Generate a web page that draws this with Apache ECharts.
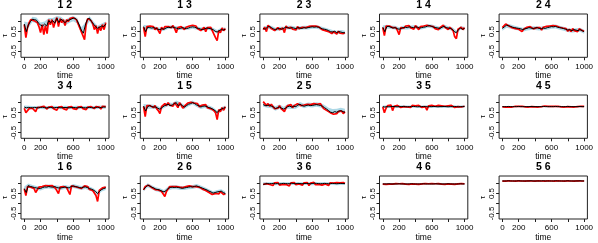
<!DOCTYPE html>
<html><head><meta charset="utf-8">
<script src="https://cdn.jsdelivr.net/npm/echarts@6/dist/echarts.min.js"></script>
<style>html,body{margin:0;padding:0;background:#fff}#c{width:598px;height:243px}</style>
</head><body><div id="c"></div><script>
const T25=[0,25,50,75,100,125,150,175,200,225,250,275,300,325,350,375,400,425,450,475,500,525,550,575,600,625,650,675,700,725,750,775,800,825,850,875,900,925,950,975,1000];
const T20=[0,20,40,60,80,100,120,140,160,180,200,220,240,260,280,300,320,340,360,380,400,420,440,460,480,500,520,540,560,580,600,620,640,660,680,700,720,740,760,780,800,820,840,860,880,900,920,940,960,980,1000];
const T50=[0,50,100,150,200,250,300,350,400,450,500,550,600,650,700,750,800,850,900,950,1000];
const xTicks=[0,200,400,600,800,1000];
const xLabels=[0,200,600,1000];
const yTicks=[-0.5,0,0.5,1];
const yLabels=[-0.5,0.5];

const truth_1_2=[0.88,0.5,0.83,1.0,1.12,1.1,1.07,0.92,0.83,0.78,0.88,0.78,1.05,0.95,1.05,0.92,1.17,0.95,1.12,1.05,0.95,1.05,1.08,1.12,1.17,1.17,1.05,0.83,0.58,0.42,0.83,1.12,1.17,1.0,0.88,0.75,0.67,0.72,0.78,0.75,0.88];
const est_1_2=[0.85,0.2,0.7,0.95,1.1,1.15,1.05,1.12,0.95,0.75,0.45,0.85,0.35,0.8,0.4,1.1,0.85,1.1,0.7,1.0,1.2,0.75,1.15,0.95,1.1,0.8,1.1,1.0,1.15,1.1,1.2,1.15,1.1,0.9,0.7,0.5,0.3,0.1,0.9,1.15,1.2,1.05,0.9,0.6,0.8,0.4,0.75,0.55,0.85,0.6,0.95];
const lo_1_2=[0.72,0.68,0.98,0.92,0.68,0.72,0.9,0.9,1.02,0.98,0.8,0.93,1.02,0.9,0.42,0.66,1.02,0.72,0.52,0.62,0.72];
const hi_1_2=[1.0,0.96,1.24,1.2,0.96,1.0,1.18,1.18,1.28,1.24,1.08,1.2,1.28,1.18,0.72,0.96,1.28,1.0,0.8,0.9,1.0];

const truth_1_3=[0.75,0.5,0.72,0.7,0.68,0.7,0.66,0.62,0.6,0.65,0.62,0.68,0.72,0.7,0.74,0.7,0.68,0.64,0.66,0.7,0.67,0.65,0.68,0.72,0.74,0.72,0.68,0.66,0.62,0.6,0.65,0.68,0.66,0.64,0.6,0.52,0.48,0.55,0.6,0.58,0.62];
const est_1_3=[0.72,0.25,0.75,0.82,0.78,0.7,0.75,0.6,0.7,0.55,0.4,0.72,0.6,0.75,0.8,0.75,0.82,0.7,0.8,0.65,0.45,0.7,0.62,0.75,0.7,0.6,0.72,0.68,0.78,0.8,0.82,0.75,0.78,0.65,0.7,0.55,0.6,0.72,0.5,0.7,0.65,0.72,0.55,0.5,0.2,0.05,0.55,0.45,0.68,0.55,0.65];
const lo_1_3=[0.65,0.63,0.6,0.58,0.52,0.54,0.63,0.65,0.6,0.58,0.59,0.6,0.65,0.6,0.54,0.57,0.58,0.52,0.4,0.52,0.54];
const hi_1_3=[0.84,0.81,0.77,0.75,0.69,0.71,0.8,0.82,0.77,0.75,0.76,0.77,0.82,0.77,0.71,0.74,0.75,0.69,0.58,0.69,0.71];

const truth_2_3=[0.66,0.62,0.72,0.76,0.7,0.64,0.6,0.64,0.66,0.62,0.66,0.72,0.7,0.66,0.7,0.68,0.65,0.7,0.68,0.66,0.7,0.68,0.7,0.72,0.74,0.72,0.74,0.72,0.68,0.64,0.62,0.6,0.55,0.5,0.48,0.52,0.45,0.5,0.48,0.45,0.44];
const est_2_3=[0.6,0.72,0.5,0.82,0.75,0.65,0.7,0.55,0.62,0.7,0.6,0.55,0.68,0.45,0.78,0.68,0.6,0.72,0.62,0.7,0.58,0.75,0.65,0.6,0.72,0.64,0.7,0.62,0.76,0.7,0.78,0.72,0.78,0.7,0.74,0.66,0.6,0.64,0.55,0.6,0.5,0.55,0.4,0.5,0.45,0.38,0.52,0.42,0.5,0.4,0.45];
const lo_2_3=[0.57,0.63,0.61,0.52,0.57,0.57,0.61,0.61,0.56,0.59,0.61,0.61,0.65,0.65,0.59,0.53,0.46,0.4,0.37,0.4,0.36];
const hi_2_3=[0.75,0.81,0.79,0.69,0.75,0.75,0.79,0.79,0.74,0.77,0.79,0.79,0.83,0.83,0.77,0.71,0.64,0.58,0.55,0.58,0.54];

const truth_1_4=[0.72,0.5,0.75,0.76,0.72,0.68,0.7,0.65,0.62,0.66,0.7,0.72,0.7,0.74,0.72,0.7,0.74,0.72,0.68,0.7,0.72,0.74,0.78,0.8,0.76,0.72,0.7,0.68,0.66,0.72,0.76,0.7,0.68,0.66,0.62,0.5,0.45,0.6,0.68,0.62,0.66];
const est_1_4=[0.7,0.3,0.78,0.85,0.78,0.72,0.7,0.62,0.7,0.55,0.35,0.7,0.76,0.68,0.78,0.72,0.8,0.7,0.78,0.62,0.8,0.72,0.6,0.75,0.7,0.78,0.72,0.82,0.85,0.78,0.7,0.75,0.65,0.72,0.6,0.7,0.75,0.82,0.72,0.8,0.6,0.72,0.65,0.55,0.25,0.15,0.62,0.55,0.72,0.6,0.7];
const lo_1_4=[0.63,0.66,0.63,0.61,0.54,0.61,0.61,0.63,0.65,0.59,0.63,0.69,0.67,0.61,0.57,0.67,0.59,0.54,0.38,0.59,0.57];
const hi_1_4=[0.81,0.84,0.81,0.79,0.72,0.79,0.79,0.81,0.83,0.77,0.81,0.87,0.85,0.79,0.75,0.85,0.77,0.72,0.56,0.77,0.75];

const truth_2_4=[0.66,0.74,0.82,0.8,0.76,0.72,0.7,0.68,0.66,0.64,0.6,0.64,0.66,0.7,0.68,0.66,0.68,0.7,0.66,0.64,0.68,0.66,0.7,0.72,0.75,0.74,0.76,0.72,0.7,0.68,0.65,0.62,0.58,0.6,0.55,0.6,0.58,0.55,0.6,0.55,0.5];
const est_2_4=[0.7,0.78,0.88,0.85,0.78,0.75,0.7,0.72,0.65,0.7,0.62,0.68,0.5,0.62,0.7,0.72,0.68,0.75,0.7,0.64,0.72,0.7,0.62,0.7,0.58,0.72,0.68,0.76,0.72,0.78,0.76,0.8,0.74,0.78,0.7,0.72,0.66,0.68,0.6,0.65,0.52,0.62,0.5,0.65,0.55,0.62,0.5,0.64,0.58,0.55,0.52];
const lo_2_4=[0.55,0.7,0.65,0.6,0.56,0.5,0.56,0.58,0.58,0.56,0.58,0.6,0.65,0.66,0.6,0.55,0.48,0.45,0.48,0.5,0.4];
const hi_2_4=[0.74,0.9,0.85,0.79,0.75,0.69,0.75,0.77,0.77,0.75,0.77,0.79,0.84,0.85,0.79,0.74,0.67,0.64,0.67,0.69,0.6];

const truth_3_4=[0.78,0.74,0.76,0.75,0.74,0.76,0.75,0.74,0.76,0.77,0.75,0.74,0.75,0.76,0.74,0.75,0.76,0.75,0.74,0.75,0.76,0.75,0.74,0.75,0.76,0.75,0.74,0.75,0.76,0.75,0.74,0.75,0.76,0.75,0.74,0.76,0.77,0.75,0.76,0.78,0.78];
const est_3_4=[0.72,0.5,0.42,0.7,0.78,0.72,0.65,0.55,0.75,0.8,0.78,0.7,0.82,0.75,0.68,0.78,0.72,0.8,0.7,0.76,0.62,0.78,0.72,0.8,0.7,0.75,0.64,0.78,0.72,0.8,0.7,0.75,0.66,0.78,0.72,0.8,0.7,0.76,0.65,0.78,0.72,0.8,0.74,0.7,0.8,0.72,0.78,0.68,0.82,0.76,0.8];
const lo_3_4=[0.68,0.67,0.68,0.67,0.68,0.67,0.68,0.67,0.68,0.67,0.68,0.67,0.68,0.67,0.68,0.67,0.68,0.67,0.68,0.69,0.7];
const hi_3_4=[0.86,0.84,0.83,0.83,0.84,0.83,0.83,0.84,0.83,0.83,0.84,0.83,0.83,0.84,0.83,0.83,0.84,0.83,0.84,0.85,0.86];

const truth_1_5=[0.83,0.58,0.8,0.85,0.8,0.78,0.78,0.72,0.67,0.75,0.83,0.88,0.92,0.85,0.88,0.95,1.0,0.83,0.92,0.85,0.78,0.85,0.92,0.95,1.0,0.95,0.88,0.85,0.78,0.82,0.83,0.8,0.75,0.72,0.67,0.6,0.5,0.62,0.67,0.72,0.75];
const est_1_5=[0.8,0.3,0.85,0.92,0.85,0.9,0.75,0.85,0.7,0.6,0.45,0.8,0.85,0.95,0.85,1.0,0.88,0.95,0.82,1.0,1.08,0.75,1.0,0.88,0.72,0.82,0.9,0.98,0.95,1.02,1.05,0.98,0.9,0.95,0.8,0.72,0.88,0.85,0.9,0.75,0.8,0.7,0.75,0.6,0.5,0.15,0.65,0.55,0.75,0.62,0.8];
const lo_1_5=[0.73,0.7,0.7,0.68,0.57,0.73,0.82,0.78,0.9,0.82,0.68,0.82,0.9,0.78,0.68,0.73,0.65,0.57,0.4,0.57,0.65];
const hi_1_5=[0.93,0.9,0.9,0.88,0.77,0.93,1.02,0.98,1.1,1.02,0.88,1.02,1.1,0.98,0.88,0.93,0.85,0.77,0.6,0.77,0.85];

const truth_2_5=[0.9,0.85,0.85,0.88,0.82,0.78,0.7,0.75,0.78,0.72,0.68,0.72,0.8,0.82,0.78,0.82,0.8,0.88,0.92,0.85,0.82,0.85,0.88,0.85,0.86,0.88,0.9,0.88,0.86,0.82,0.75,0.68,0.6,0.52,0.5,0.55,0.52,0.58,0.6,0.55,0.52];
const est_2_5=[1.05,1.0,0.85,0.95,0.82,0.92,0.8,0.7,0.78,0.72,0.85,0.7,0.62,0.55,0.75,0.85,0.78,0.9,0.75,0.85,0.78,0.95,1.0,0.85,0.8,0.88,0.82,0.92,0.85,0.9,0.82,0.95,0.88,0.92,0.85,0.95,0.82,0.7,0.72,0.6,0.65,0.5,0.55,0.42,0.5,0.45,0.55,0.48,0.58,0.45,0.55];
const lo_2_5=[0.8,0.75,0.72,0.6,0.68,0.58,0.7,0.68,0.7,0.82,0.72,0.78,0.76,0.8,0.76,0.66,0.52,0.44,0.46,0.52,0.46];
const hi_2_5=[1.0,0.96,0.93,0.82,0.9,0.8,0.92,0.9,0.92,1.03,0.94,1.0,0.98,1.02,0.98,0.88,0.75,0.68,0.7,0.74,0.7];

const truth_3_5=[0.8,0.78,0.8,0.79,0.8,0.81,0.8,0.79,0.8,0.8,0.81,0.8,0.79,0.8,0.8,0.81,0.8,0.79,0.8,0.8,0.81,0.8,0.79,0.8,0.8,0.81,0.8,0.79,0.8,0.8,0.81,0.8,0.79,0.8,0.8,0.81,0.8,0.79,0.8,0.8,0.81];
const est_3_5=[0.78,0.5,0.72,0.85,0.8,0.88,0.6,0.82,0.78,0.86,0.8,0.76,0.84,0.8,0.88,0.78,0.82,0.76,0.86,0.8,0.84,0.78,0.86,0.8,0.76,0.84,0.8,0.62,0.84,0.78,0.86,0.8,0.82,0.76,0.86,0.8,0.84,0.78,0.82,0.74,0.84,0.78,0.86,0.8,0.76,0.84,0.8,0.86,0.78,0.84,0.82];
const lo_3_5=[0.73,0.74,0.74,0.73,0.74,0.74,0.73,0.74,0.74,0.73,0.74,0.74,0.73,0.74,0.74,0.73,0.74,0.74,0.73,0.74,0.74];
const hi_3_5=[0.86,0.86,0.87,0.86,0.86,0.87,0.86,0.86,0.87,0.86,0.86,0.87,0.86,0.86,0.87,0.86,0.86,0.87,0.86,0.86,0.87];

const truth_4_5=[0.8,0.8,0.8,0.81,0.8,0.8,0.8,0.8,0.81,0.8,0.8,0.8,0.8,0.8,0.81,0.8,0.8,0.8,0.8,0.8,0.81,0.8,0.8,0.8,0.8,0.8,0.81,0.8,0.8,0.8,0.8,0.8,0.81,0.8,0.8,0.8,0.8,0.8,0.81,0.8,0.8];
const est_4_5=[0.79,0.82,0.78,0.81,0.79,0.83,0.78,0.8,0.82,0.79,0.81,0.78,0.82,0.8,0.79,0.83,0.78,0.81,0.8,0.82,0.79,0.81,0.78,0.82,0.8,0.79,0.83,0.78,0.81,0.8,0.82,0.79,0.81,0.78,0.82,0.8,0.79,0.83,0.78,0.81,0.8,0.82,0.79,0.81,0.78,0.82,0.8,0.79,0.82,0.8,0.81];
const lo_4_5=[0.77,0.77,0.77,0.77,0.77,0.77,0.77,0.77,0.77,0.77,0.77,0.77,0.77,0.77,0.77,0.77,0.77,0.77,0.77,0.77,0.77];
const hi_4_5=[0.83,0.83,0.83,0.83,0.83,0.83,0.83,0.83,0.83,0.83,0.83,0.83,0.83,0.83,0.83,0.83,0.83,0.83,0.83,0.83,0.83];

const truth_1_6=[0.75,0.55,0.9,0.85,0.83,0.8,0.78,0.76,0.75,0.8,0.83,0.82,0.85,0.83,0.82,0.85,0.8,0.78,0.78,0.8,0.83,0.8,0.78,0.85,0.88,0.85,0.83,0.8,0.78,0.82,0.83,0.8,0.75,0.72,0.67,0.6,0.5,0.62,0.7,0.75,0.78];
const est_1_6=[0.72,0.4,0.85,0.95,0.82,0.88,0.75,0.55,0.45,0.82,0.78,0.85,0.8,0.9,0.85,0.88,0.8,0.9,0.82,0.78,0.88,0.5,0.82,0.75,0.85,0.88,0.8,0.72,0.45,0.88,0.92,0.85,0.88,0.8,0.85,0.75,0.85,0.88,0.8,0.85,0.7,0.78,0.65,0.6,0.4,0.1,0.65,0.55,0.78,0.7,0.82];
const lo_1_6=[0.65,0.8,0.73,0.68,0.65,0.73,0.75,0.72,0.7,0.68,0.73,0.68,0.78,0.73,0.68,0.73,0.65,0.57,0.4,0.6,0.68];
const hi_1_6=[0.85,1.0,0.93,0.88,0.85,0.93,0.95,0.92,0.9,0.88,0.93,0.88,0.98,0.93,0.88,0.93,0.85,0.77,0.6,0.8,0.88];

const truth_2_6=[0.7,0.82,0.92,0.88,0.82,0.78,0.72,0.7,0.67,0.62,0.58,0.65,0.75,0.8,0.82,0.8,0.82,0.8,0.78,0.76,0.78,0.8,0.82,0.84,0.83,0.86,0.88,0.84,0.8,0.76,0.72,0.68,0.62,0.58,0.52,0.55,0.58,0.6,0.62,0.55,0.5];
const est_2_6=[0.68,0.85,0.95,0.92,0.85,0.8,0.82,0.7,0.75,0.68,0.7,0.6,0.55,0.35,0.6,0.72,0.85,0.8,0.85,0.75,0.85,0.78,0.82,0.72,0.8,0.75,0.85,0.82,0.88,0.8,0.85,0.9,0.85,0.9,0.82,0.78,0.72,0.75,0.65,0.7,0.55,0.6,0.45,0.55,0.5,0.6,0.48,0.6,0.55,0.45,0.5];
const lo_2_6=[0.6,0.82,0.72,0.62,0.57,0.48,0.65,0.72,0.72,0.68,0.68,0.72,0.73,0.78,0.7,0.62,0.52,0.42,0.48,0.52,0.4];
const hi_2_6=[0.8,1.02,0.92,0.82,0.77,0.68,0.85,0.92,0.92,0.88,0.88,0.92,0.93,0.98,0.9,0.82,0.72,0.62,0.68,0.72,0.6];

const truth_3_6=[0.96,0.98,1.0,0.99,1.0,1.01,0.99,1.0,0.98,1.0,1.01,1.0,0.99,1.0,1.02,1.0,0.99,1.01,1.0,0.99,1.0,1.01,1.0,0.99,1.0,1.02,1.01,1.0,0.99,1.0,1.01,1.0,0.99,1.0,1.01,1.0,0.99,1.0,1.01,1.0,1.0];
const est_3_6=[0.95,0.85,1.0,1.05,0.95,1.02,0.9,1.04,0.98,1.05,0.92,1.02,0.96,1.06,0.95,1.0,0.88,1.04,0.98,1.05,0.94,1.02,0.98,1.06,0.92,1.04,0.96,1.05,0.9,1.02,0.98,1.06,0.94,1.03,0.96,1.05,0.92,1.02,0.98,1.05,0.9,1.04,0.96,1.02,0.94,1.05,0.98,1.03,0.95,1.05,1.0];
const lo_3_6=[0.92,0.93,0.93,0.92,0.93,0.93,0.92,0.93,0.93,0.92,0.93,0.93,0.92,0.93,0.93,0.92,0.93,0.93,0.92,0.93,0.93];
const hi_3_6=[1.06,1.07,1.07,1.06,1.07,1.07,1.06,1.07,1.07,1.06,1.07,1.07,1.06,1.07,1.07,1.06,1.07,1.07,1.06,1.07,1.07];

const truth_4_6=[0.98,0.98,0.98,0.99,0.98,0.98,0.98,0.98,0.99,0.98,0.98,0.98,0.98,0.98,0.99,0.98,0.98,0.98,0.98,0.98,0.99,0.98,0.98,0.98,0.98,0.98,0.99,0.98,0.98,0.98,0.98,0.98,0.99,0.98,0.98,0.98,0.98,0.98,0.99,0.98,0.98];
const est_4_6=[0.97,0.99,0.96,0.99,0.97,1.0,0.97,0.98,1.0,0.97,0.99,0.96,1.0,0.98,0.97,1.0,0.96,0.99,0.98,1.0,0.97,0.99,0.96,1.0,0.98,0.97,1.0,0.96,0.99,0.98,1.0,0.97,0.99,0.96,1.0,0.98,0.97,1.0,0.96,0.99,0.98,1.0,0.97,0.99,0.96,1.0,0.98,0.97,1.0,0.98,0.99];
const lo_4_6=[0.95,0.95,0.95,0.95,0.95,0.95,0.95,0.95,0.95,0.95,0.95,0.95,0.95,0.95,0.95,0.95,0.95,0.95,0.95,0.95,0.95];
const hi_4_6=[1.01,1.01,1.01,1.01,1.01,1.01,1.01,1.01,1.01,1.01,1.01,1.01,1.01,1.01,1.01,1.01,1.01,1.01,1.01,1.01,1.01];

const truth_5_6=[1.13,1.13,1.13,1.14,1.13,1.13,1.13,1.13,1.14,1.13,1.13,1.13,1.13,1.13,1.14,1.13,1.13,1.13,1.13,1.13,1.14,1.13,1.13,1.13,1.13,1.13,1.14,1.13,1.13,1.13,1.13,1.13,1.14,1.13,1.13,1.13,1.13,1.13,1.14,1.13,1.13];
const est_5_6=[1.12,1.14,1.12,1.13,1.14,1.12,1.13,1.14,1.12,1.13,1.14,1.12,1.13,1.14,1.12,1.13,1.14,1.12,1.13,1.14,1.12,1.13,1.14,1.12,1.13,1.14,1.12,1.13,1.14,1.12,1.13,1.14,1.12,1.13,1.14,1.12,1.13,1.14,1.12,1.13,1.14,1.12,1.13,1.14,1.12,1.13,1.14,1.12,1.13,1.14,1.13];
const lo_5_6=[1.11,1.11,1.11,1.11,1.11,1.11,1.11,1.11,1.11,1.11,1.11,1.11,1.11,1.11,1.11,1.11,1.11,1.11,1.11,1.11,1.11];
const hi_5_6=[1.15,1.15,1.15,1.15,1.15,1.15,1.15,1.15,1.15,1.15,1.15,1.15,1.15,1.15,1.15,1.15,1.15,1.15,1.15,1.15,1.15];

const panelTitles=["1 2","1 3","2 3","1 4","2 4","3 4","1 5","2 5","3 5","4 5","1 6","2 6","3 6","4 6","5 6"];
const panelData=[
 [truth_1_2,est_1_2,lo_1_2,hi_1_2],[truth_1_3,est_1_3,lo_1_3,hi_1_3],[truth_2_3,est_2_3,lo_2_3,hi_2_3],[truth_1_4,est_1_4,lo_1_4,hi_1_4],[truth_2_4,est_2_4,lo_2_4,hi_2_4],
 [truth_3_4,est_3_4,lo_3_4,hi_3_4],[truth_1_5,est_1_5,lo_1_5,hi_1_5],[truth_2_5,est_2_5,lo_2_5,hi_2_5],[truth_3_5,est_3_5,lo_3_5,hi_3_5],[truth_4_5,est_4_5,lo_4_5,hi_4_5],
 [truth_1_6,est_1_6,lo_1_6,hi_1_6],[truth_2_6,est_2_6,lo_2_6,hi_2_6],[truth_3_6,est_3_6,lo_3_6,hi_3_6],[truth_4_6,est_4_6,lo_4_6,hi_4_6],[truth_5_6,est_5_6,lo_5_6,hi_5_6]
];

const FONT='"Liberation Sans", Arial, sans-serif';
const PW=598/5, PH=81;
const BL=20.7, BT=14, BW=88.3, BH=43.3;
const grid=[], xAxis=[], yAxis=[], series=[], graphic=[];
panelData.forEach((pd,i)=>{
  const r=Math.floor(i/5), c=i%5;
  const ox=c*PW, oy=r*PH;
  const [truth,est,lo,hi]=pd;
  grid.push({left:ox+BL, top:oy+BT, width:BW, height:BH, show:true, borderColor:'#222', borderWidth:1, backgroundColor:'rgba(0,0,0,0)'});
  xAxis.push({gridIndex:i, type:'value', min:-40, max:1040,
    axisLine:{show:false, onZero:false},
    axisTick:{show:true, inside:false, length:3, customValues:xTicks, lineStyle:{color:'#222', width:1}},
    axisLabel:{show:true, customValues:xLabels, fontSize:8, color:'#000', margin:5, fontFamily:FONT, formatter:v=>String(v)},
    splitLine:{show:false},
    name:'time', nameLocation:'middle', nameGap:14, nameTextStyle:{fontSize:8.5, color:'#000', fontFamily:FONT}});
  yAxis.push({gridIndex:i, type:'value', min:-0.78, max:1.38,
    axisLine:{show:false, onZero:false},
    axisTick:{show:true, inside:false, length:3, customValues:yTicks, lineStyle:{color:'#222', width:1}},
    axisLabel:{show:true, customValues:yLabels, rotate:90, fontSize:8, color:'#000', margin:3, fontFamily:FONT, formatter:v=>Number(v).toFixed(1)},
    splitLine:{show:false},
    name:'τ', nameLocation:'middle', nameGap:12, nameRotate:90, nameTextStyle:{fontSize:8, color:'#000', fontFamily:FONT}});
  series.push({type:'custom', xAxisIndex:i, yAxisIndex:i, clip:true, silent:true, z:1,
    data:T50.map((t,k)=>[t,lo[k],hi[k]]),
    renderItem:(params,api)=>{
      if(params.dataIndex!==0) return null;
      const pts=[];
      for(let k=0;k<T50.length;k++) pts.push(api.coord([T50[k],hi[k]]));
      for(let k=T50.length-1;k>=0;k--) pts.push(api.coord([T50[k],lo[k]]));
      return {type:'polygon', shape:{points:pts}, style:{fill:'#add8e6', stroke:null}};
    }});
  series.push({type:'line', xAxisIndex:i, yAxisIndex:i, z:2, showSymbol:false, silent:true, smooth:false,
    data:T20.map((t,k)=>[t,est[k]]), lineStyle:{color:'#ff0000', width:1.7}});
  series.push({type:'line', xAxisIndex:i, yAxisIndex:i, z:3, showSymbol:false, silent:true, smooth:false,
    data:T25.map((t,k)=>[t,truth[k]]), lineStyle:{color:'#000000', width:1}});
  graphic.push({type:'text', x:ox+BL+BW/2, y:oy+5.5, style:{text:panelTitles[i], font:'bold 10.5px '+FONT, align:'center', verticalAlign:'middle', fill:'#000'}});
});
const chart=echarts.init(document.getElementById('c'),null,{renderer:'canvas'});
chart.setOption({animation:false, grid, xAxis, yAxis, series, graphic});
</script></body></html>
